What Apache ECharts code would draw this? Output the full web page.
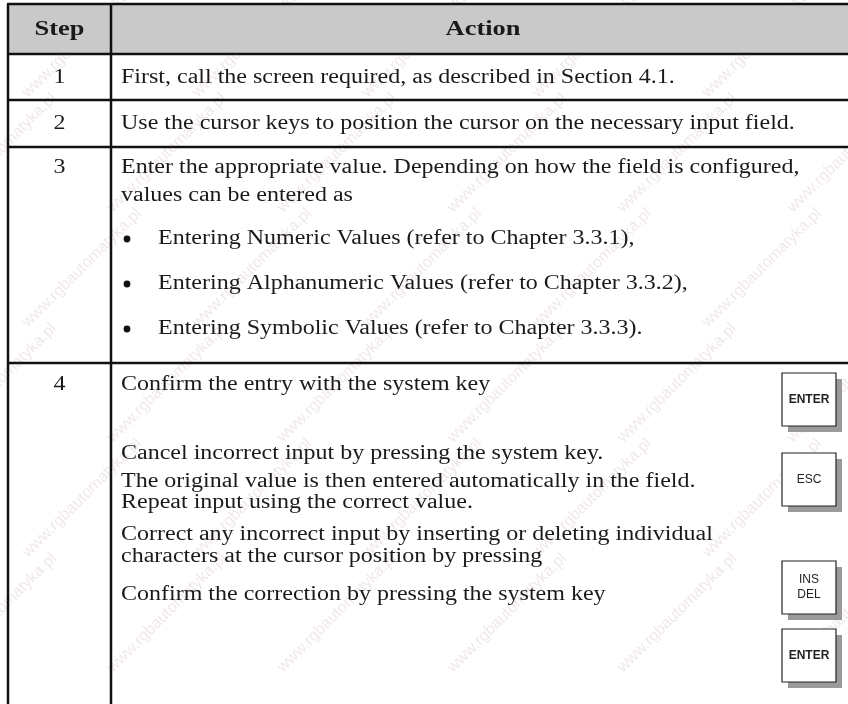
<!DOCTYPE html>
<html>
<head>
<meta charset="utf-8">
<script src="https://cdn.jsdelivr.net/npm/echarts@6/dist/echarts.min.js"></script>
<style>html,body{margin:0;padding:0;background:#fff;}#c{width:848px;height:704px;}</style>
</head>
<body>
<div id="c"></div>
<script>
// ---- data ----
var headers = ['Step', 'Action'];
var steps = ['1', '2', '3', '4'];
var row1Lines = ['First, call the screen required, as described in Section 4.1.'];
var row2Lines = ['Use the cursor keys to position the cursor on the necessary input field.'];
var row3Lines = ['Enter the appropriate value. Depending on how the field is configured,', 'values can be entered as'];
var row3Bullets = ['Entering Numeric Values (refer to Chapter 3.3.1),', 'Entering Alphanumeric Values (refer to Chapter 3.3.2),', 'Entering Symbolic Values (refer to Chapter 3.3.3).'];
var row4Lines = ['Confirm the entry with the system key', 'Cancel incorrect input by pressing the system key.', 'The original value is then entered automatically in the field.', 'Repeat input using the correct value.', 'Correct any incorrect input by inserting or deleting individual', 'characters at the cursor position by pressing', 'Confirm the correction by pressing the system key'];
var keyLabels = [['ENTER'], ['ESC'], ['INS', 'DEL'], ['ENTER']];
var keyBold = [true, false, false, true];
var watermark = 'www.rgbautomatyka.pl';

// ---- layout ----
var L = 8, D = 111, R = 856;
var rowEdges = [4, 54, 100, 147, 363, 710];
var stepY = [78, 124, 168, 385];
var row1Y = [78], row2Y = [124], row3Y = [168, 196], bulletY = [239, 284, 329];
var row4Y = [385, 454, 482, 503, 535, 557, 595];
var keyTop = [373, 453, 561, 629];
var keyX = 782, keyW = 54, keyH = 53;
var SX = 1.2;
var serif = '"Liberation Serif", "Times New Roman", serif';
var sans = '"Liberation Sans", Arial, sans-serif';

var g = [];
// watermarks
for (var wy = -20; wy < 760; wy += 115) {
  for (var wx = -60; wx < 900; wx += 170) {
    var off = (Math.round((wy + 20) / 115) % 2) * 85;
    g.push({type: 'text', x: wx + off, y: wy, rotation: Math.PI / 4, z: 0,
      style: {text: watermark, font: '16px ' + sans, fill: 'rgba(205,180,180,0.3)', textAlign: 'left', textVerticalAlign: 'middle'}});
  }
}
// header background
g.push({type: 'rect', shape: {x: L, y: rowEdges[0], width: R - L, height: rowEdges[1] - rowEdges[0]}, style: {fill: '#c9c9c9'}, z: 1});
// horizontal lines
rowEdges.slice(0, 5).forEach(function (y) {
  g.push({type: 'line', shape: {x1: L - 1, y1: y, x2: R, y2: y}, style: {stroke: '#111', lineWidth: 2.5}, z: 5});
});
// vertical lines
[L, D].forEach(function (x) {
  g.push({type: 'line', shape: {x1: x, y1: rowEdges[0], x2: x, y2: 710}, style: {stroke: '#111', lineWidth: 2.5}, z: 5});
});
function txt(s, x, y, opts) {
  opts = opts || {};
  g.push({type: 'text', x: x, y: y, z: 6, scaleX: SX, style: {text: s, font: (opts.bold ? 'bold ' : '') + (opts.size || 20) + 'px ' + (opts.family || serif), fill: '#1a1a1a', textAlign: opts.align || 'left', textVerticalAlign: 'middle'}});
}
txt(headers[0], (L + D) / 2, 29, {bold: true, align: 'center', size: 22});
txt(headers[1], 483, 29, {bold: true, align: 'center', size: 22});
steps.forEach(function (s, i) { txt(s, (L + D) / 2, stepY[i], {align: 'center'}); });
var TX = 121;
row1Lines.forEach(function (s, i) { txt(s, TX, row1Y[i]); });
row2Lines.forEach(function (s, i) { txt(s, TX, row2Y[i]); });
row3Lines.forEach(function (s, i) { txt(s, TX, row3Y[i]); });
row3Bullets.forEach(function (s, i) {
  g.push({type: 'circle', shape: {cx: 127, cy: bulletY[i], r: 3.4}, style: {fill: '#111'}, z: 6});
  txt(s, 158, bulletY[i]);
});
row4Lines.forEach(function (s, i) { txt(s, TX, row4Y[i]); });
// keys
keyLabels.forEach(function (lab, i) {
  var t = keyTop[i];
  g.push({type: 'rect', shape: {x: keyX + 6, y: t + 6, width: keyW, height: keyH}, style: {fill: '#9a9a9a'}, z: 6});
  g.push({type: 'rect', shape: {x: keyX, y: t, width: keyW, height: keyH}, style: {fill: '#fff', stroke: '#222', lineWidth: 1.2}, z: 7});
  var n = lab.length;
  lab.forEach(function (s, j) {
    var cy = t + keyH / 2 + (j - (n - 1) / 2) * 15;
    g.push({type: 'text', x: keyX + keyW / 2, y: cy, z: 8, style: {text: s, font: (keyBold[i] ? 'bold ' : '') + '12px ' + sans, fill: '#222', textAlign: 'center', textVerticalAlign: 'middle'}});
  });
});

var chart = echarts.init(document.getElementById('c'), null, {renderer: 'canvas'});
chart.setOption({backgroundColor: '#fff', animation: false, graphic: {elements: g}});
</script>
</body>
</html>
